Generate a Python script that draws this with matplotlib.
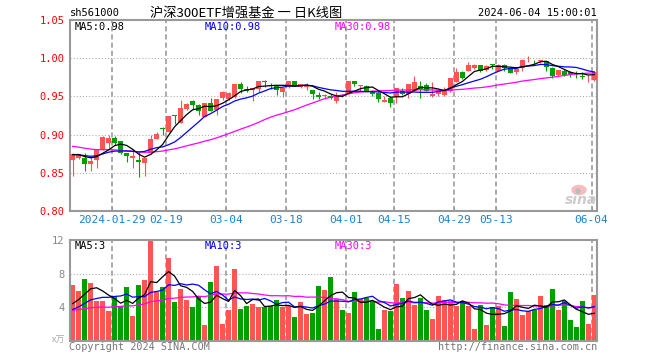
import numpy as np
import pandas as pd
import matplotlib
matplotlib.use('Agg')
import matplotlib.pyplot as plt
from matplotlib.patches import Ellipse

# daily bars 2024-01-18 .. 2024-06-04 (88 sessions)
open_ = [0.867, 0.870, 0.870, 0.8616, 0.867, 0.880, 0.889, 0.8956, 0.891, 0.876,
         0.869, 0.8668, 0.8624, 0.8755, 0.8943, 0.908, 0.904, 0.926, 0.915, 0.9336,
         0.9437, 0.9389, 0.9236, 0.9415, 0.932, 0.948, 0.947, 0.949, 0.9664, 0.9598,
         0.9585, 0.9598, 0.970, 0.9642, 0.9642, 0.9563, 0.962, 0.9699, 0.962, 0.962,
         0.9585, 0.952, 0.950, 0.951, 0.9445, 0.951, 0.9546, 0.9699, 0.9638, 0.9642,
         0.9577, 0.954, 0.9424, 0.948, 0.949, 0.9568, 0.953, 0.9577, 0.9642, 0.9655,
         0.9502, 0.953, 0.9524, 0.9576, 0.9686, 0.9817, 0.983, 0.9873, 0.9913, 0.9852,
         0.9917, 0.9838, 0.9917, 0.987, 0.9825, 0.9873, 0.9987, 0.9974, 0.9957, 0.996,
         0.9873, 0.978, 0.9838, 0.9825, 0.9806, 0.9766, 0.9749, 0.9716]
high = [0.8755, 0.875, 0.876, 0.872, 0.881, 0.8987, 0.900, 0.8987, 0.891, 0.876,
        0.881, 0.877, 0.870, 0.900, 0.903, 0.9096, 0.924, 0.926, 0.9454, 0.941,
        0.9454, 0.9397, 0.941, 0.9476, 0.946, 0.9576, 0.9555, 0.9664, 0.9686, 0.964,
        0.961, 0.9707, 0.972, 0.9677, 0.9642, 0.9607, 0.9707, 0.9699, 0.9664, 0.9677,
        0.9585, 0.956, 0.9537, 0.953, 0.9555, 0.9537, 0.9699, 0.9699, 0.9655, 0.9655,
        0.9585, 0.9555, 0.951, 0.951, 0.961, 0.9607, 0.9664, 0.977, 0.9707, 0.9672,
        0.9686, 0.9598, 0.962, 0.9738, 0.9869, 0.983, 0.9956, 0.9926, 0.9913, 0.9913,
        0.993, 0.993, 0.993, 0.9882, 0.9882, 0.9983, 1.0026, 0.9974, 0.9978, 0.996,
        0.9882, 0.9847, 0.986, 0.9838, 0.9838, 0.9817, 0.978, 0.983]
low = [0.846, 0.868, 0.853, 0.853, 0.856, 0.880, 0.883, 0.886, 0.875, 0.8637,
       0.856, 0.844, 0.846, 0.8747, 0.8943, 0.899, 0.904, 0.914, 0.915, 0.9328,
       0.9336, 0.9258, 0.9236, 0.9314, 0.9258, 0.945, 0.945, 0.948, 0.9546, 0.9555,
       0.9445, 0.9555, 0.962, 0.9598, 0.9524, 0.9498, 0.961, 0.9642, 0.9607, 0.9585,
       0.9467, 0.9467, 0.9467, 0.946, 0.941, 0.9493, 0.9533, 0.9642, 0.9555, 0.9568,
       0.9511, 0.943, 0.9424, 0.9367, 0.942, 0.9524, 0.9476, 0.9568, 0.9476, 0.9568,
       0.9489, 0.9511, 0.9502, 0.9563, 0.9686, 0.9729, 0.983, 0.986, 0.9817, 0.9838,
       0.9865, 0.983, 0.9838, 0.980, 0.9795, 0.983, 0.9947, 0.991, 0.9939, 0.983,
       0.9738, 0.977, 0.977, 0.975, 0.9738, 0.973, 0.9686, 0.9707]
close = [0.8747, 0.873, 0.8616, 0.866, 0.880, 0.897, 0.8956, 0.889, 0.876, 0.8716,
         0.8716, 0.8637, 0.8694, 0.8943, 0.901, 0.907, 0.924, 0.925, 0.9345, 0.940,
         0.939, 0.9314, 0.941, 0.9314, 0.946, 0.9555, 0.954, 0.9664, 0.9598, 0.9568,
         0.961, 0.9707, 0.969, 0.963, 0.959, 0.9607, 0.9699, 0.9642, 0.9664, 0.963,
         0.9533, 0.9498, 0.9524, 0.9476, 0.950, 0.9502, 0.9699, 0.9664, 0.9642, 0.9577,
         0.953, 0.9467, 0.9458, 0.941, 0.961, 0.953, 0.9664, 0.9686, 0.960, 0.9577,
         0.9533, 0.9585, 0.959, 0.9738, 0.9825, 0.9738, 0.9917, 0.9913, 0.983, 0.9904,
         0.991, 0.9917, 0.9873, 0.981, 0.986, 0.997, 0.9991, 0.997, 0.9978, 0.989,
         0.9764, 0.9847, 0.9786, 0.9795, 0.980, 0.976, 0.9755, 0.9817]
volume = [6.6, 5.96, 7.4, 6.84, 4.68, 4.68, 3.48, 5.28, 4.16, 6.36,
          2.88, 6.68, 7.28, 11.96, 5.76, 6.36, 9.8, 4.56, 6.2, 4.8,
          3.96, 5.28, 1.88, 6.96, 8.88, 2.0, 3.6, 8.48, 3.8, 4.16,
          4.4, 3.96, 3.96, 4.08, 4.88, 3.96, 4.08, 2.8, 4.56, 3.2,
          3.32, 6.56, 6.08, 7.56, 5.0, 3.68, 3.32, 5.84, 4.96, 5.08,
          4.76, 1.4, 3.68, 3.48, 6.8, 5.12, 5.96, 4.28, 5.12, 3.68,
          2.6, 5.36, 4.88, 4.68, 4.08, 4.68, 4.08, 1.4, 4.28, 1.88,
          3.96, 4.16, 1.76, 5.84, 5.0, 3.08, 3.48, 3.68, 5.36, 4.28,
          6.2, 3.6, 4.76, 2.48, 1.64, 4.76, 2.0, 5.4]

# 29 sessions before the window, estimated from where the MA lines start
close_before = [0.905, 0.903, 0.900, 0.902, 0.898, 0.895, 0.897, 0.893, 0.890, 0.892,
                0.888, 0.885, 0.887, 0.884, 0.882, 0.880, 0.883, 0.879, 0.877, 0.880,
                0.876, 0.872, 0.875, 0.873, 0.874, 0.872, 0.875, 0.874, 0.873]
volume_before = [3.2, 4.1, 3.6, 2.9, 3.8, 4.4, 3.3, 3.0, 3.9, 3.5,
                 2.8, 4.2, 3.7, 3.1, 3.6, 4.0, 3.4, 3.3, 3.6, 3.6,
                 2.8, 3.2, 2.6, 3.1, 3.3, 3.5, 4.2, 3.6, 4.1]

tick_idx = [7, 16, 26, 36, 46, 54, 64, 71, 87]
tick_labels = ['2024-01-29', '02-19', '03-04', '03-18', '04-01', '04-15', '04-29', '05-13', '06-04']

# legend texts as printed on the chart
ma_windows = [5, 10, 30]
price_ma_text = ['MA5:0.98', 'MA10:0.98', 'MA30:0.98']
vol_ma_text = ['MA5:3', 'MA10:3', 'MA30:3']

RED = '#ff5454'
GREEN = '#00a000'
GRID = '#aaaaaa'
MA_COLORS = {5: 'black', 10: '#0000ff', 30: '#ff00ff'}

plt.rcParams['font.family'] = ['DejaVu Sans Mono', 'Noto Sans CJK SC']
W, H = 660, 360


def box(l, t, r, b):
    return [l / W, 1 - b / H, (r - l) / W, (b - t) / H]


def ftext(x, y, s, **kw):
    fig.text(x / W, 1 - y / H, s, va='center', **kw)


def ma(values, before, n):
    s = pd.Series(before + values).rolling(n).mean()
    return s.values[len(before):]


o = np.array(open_)
h = np.array(high)
l = np.array(low)
c = np.array(close)
v = np.array(volume)
x = np.arange(len(c))
cols = np.where(c >= o, RED, GREEN)
grid_x = np.array(tick_idx) - 0.45

fig = plt.figure(figsize=(6.6, 3.6), dpi=100)
ax = fig.add_axes(box(70, 20, 597, 211))
axv = fig.add_axes(box(70, 240, 597, 340.5))

# price panel
for y in [0.85, 0.90, 0.95, 1.00]:
    ax.axhline(y, color=GRID, lw=0.75, ls=(0, (1, 2)), zorder=0)
for gx in grid_x:
    ax.axvline(gx, color=GRID, lw=1.4, ls=(0, (2.6, 1.6)), zorder=0)
ax.vlines(x, l, h, colors=cols, lw=0.8, zorder=2)
ax.bar(x, np.maximum(np.abs(c - o), 0.0009), bottom=np.minimum(o, c), width=0.83,
       color=cols, linewidth=0, zorder=3)
for n in [30, 10, 5]:
    ax.plot(x, ma(close, close_before, n), color=MA_COLORS[n], lw=0.9, zorder=4)
ax.set_xlim(-0.45, len(c) - 0.55)
ax.set_ylim(0.80, 1.05)
ax.set_yticks([0.80, 0.85, 0.90, 0.95, 1.00, 1.05])
ax.set_yticklabels(['%.2f' % t for t in [0.80, 0.85, 0.90, 0.95, 1.00, 1.05]])
ax.tick_params(axis='y', length=0, pad=4, labelcolor='red', labelsize=7.5)
ax.set_xticks(grid_x)
ax.set_xticklabels(tick_labels)
ax.tick_params(axis='x', direction='in', length=3, color='#999999', pad=3,
               labelcolor='#1a80d0', labelsize=8)

# volume panel
for y in [4, 8]:
    axv.axhline(y, color=GRID, lw=0.75, ls=(0, (1, 2)), zorder=0)
for gx in grid_x:
    axv.axvline(gx, color=GRID, lw=1.4, ls=(0, (2.6, 1.6)), zorder=0)
axv.bar(x, v, width=0.83, color=cols, linewidth=0, zorder=2)
for n in [30, 10, 5]:
    axv.plot(x, ma(volume, volume_before, n), color=MA_COLORS[n], lw=0.9, zorder=3)
axv.set_xlim(-0.45, len(c) - 0.55)
axv.set_ylim(0, 12)
axv.set_yticks([4, 8, 12])
axv.tick_params(axis='y', length=0, pad=4, labelcolor='#888888', labelsize=7.5)
axv.set_xticks([])

for a in (ax, axv):
    for sp in a.spines.values():
        sp.set_color('#999999')
        sp.set_linewidth(1.5)

# header and legends
ftext(70, 13.5, 'sh561000', fontsize=7.5)
ftext(150, 13, '沪深300ETF增强基金 一 日K线图', fontsize=9.5,
      family=['Noto Sans CJK SC', 'DejaVu Sans'])
ftext(597, 13.5, '2024-06-04 15:00:01', fontsize=7.5, ha='right')
for n, xpos, pt, vt in zip(ma_windows, [75, 205, 335], price_ma_text, vol_ma_text):
    ftext(xpos, 27, pt, fontsize=7.5, color=MA_COLORS[n])
    ftext(xpos, 246, vt, fontsize=7.5, color=MA_COLORS[n])
ftext(65, 340, 'x万', fontsize=6.5, ha='right', color='#aaaaaa',
      family=['Noto Sans CJK SC', 'DejaVu Sans'])
ftext(69, 347, 'Copyright 2024 SINA.COM', fontsize=7.3, color='#777777')
ftext(597, 347, 'http://finance.sina.com.cn', fontsize=7.3, color='#777777', ha='right')

# sina watermark
fig.add_artist(Ellipse((579 / W, 1 - 190 / H), 14 / W, 9 / H, color='#f8bcbc',
                       transform=fig.transFigure))
fig.add_artist(Ellipse((578 / W, 1 - 191 / H), 4 / W, 4 / H, color='#bbbbbb',
                       transform=fig.transFigure))
ftext(581, 200, 'sina', fontsize=10, style='italic', weight='bold', color='#cccccc',
      ha='center', family='DejaVu Sans')

fig.savefig('out.png', dpi=100)
